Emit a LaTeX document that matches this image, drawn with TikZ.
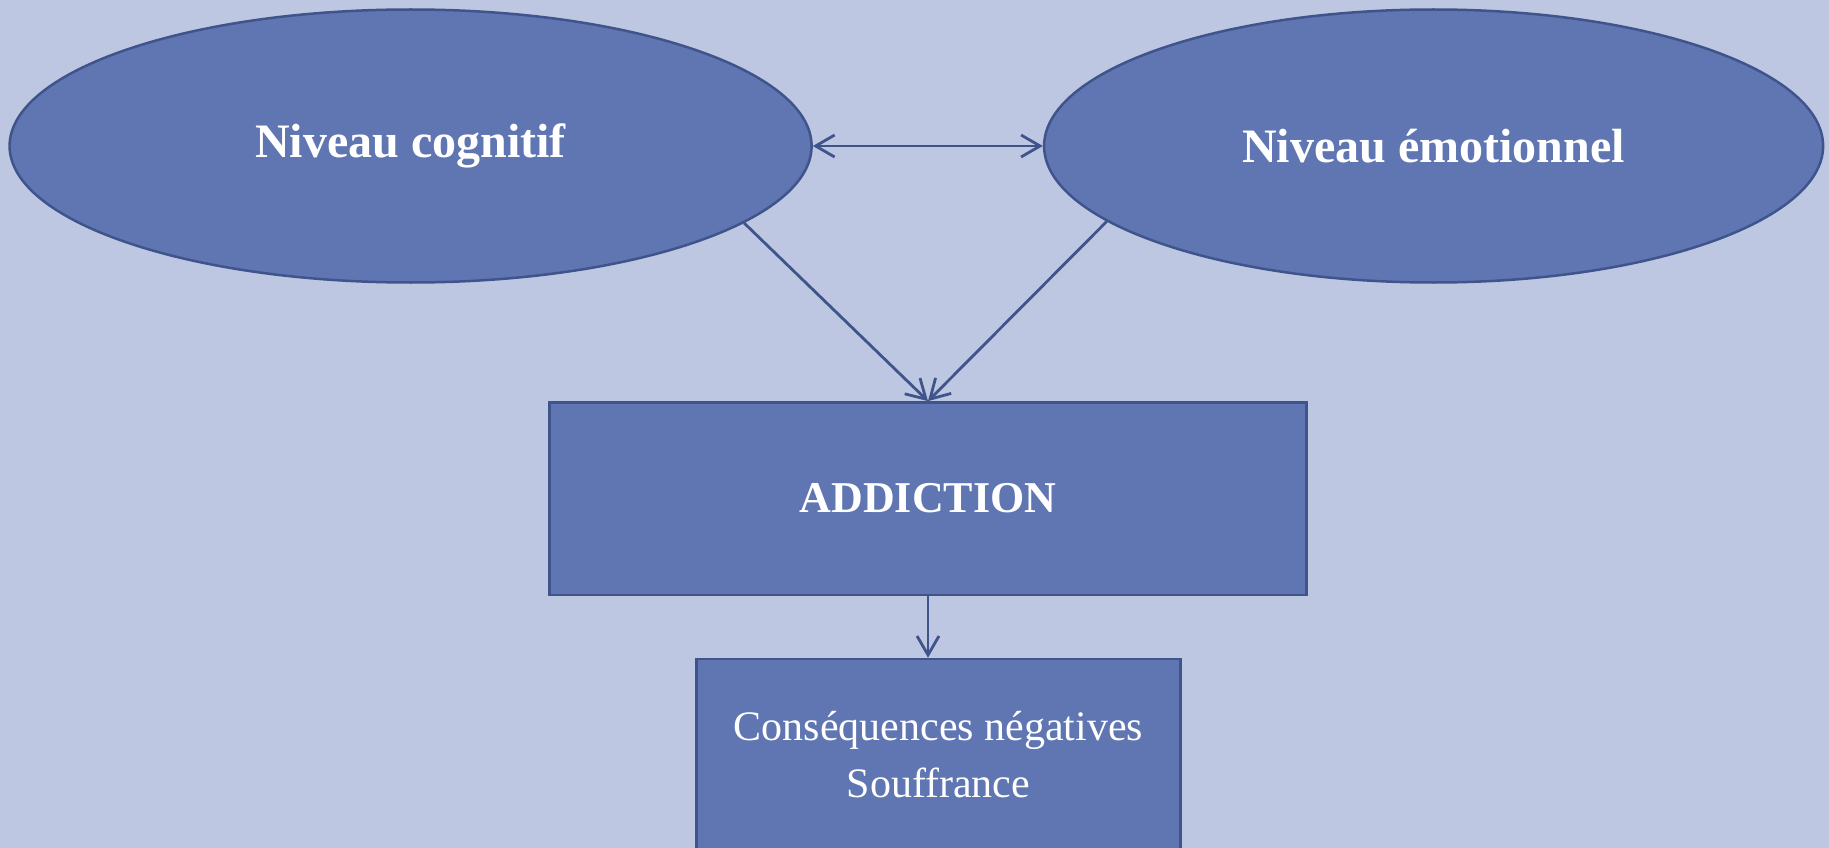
\documentclass[tikz,border=0pt]{standalone}
\usepackage{fontspec}
\setmainfont{Liberation Serif}
\usetikzlibrary{shapes.geometric,arrows.meta}
\definecolor{bgc}{RGB}{189,199,225}
\definecolor{fillc}{RGB}{95,118,178}
\definecolor{linec}{RGB}{64,84,140}
\begin{document}
\begin{tikzpicture}[x=1pt,y=-1pt,
  oval/.style={ellipse, draw=linec, fill=fillc, line width=2.5pt, inner sep=0pt, text=white,
    font=\bfseries\fontsize{48}{58}\selectfont},
  boxnode/.style={rectangle, draw=linec, fill=fillc, line width=2.5pt, inner sep=0pt, text=white},
  conn/.style={draw=linec, line width=2.8pt, -{Straight Barb[length=19pt,width=22pt]}},
  bothconn/.style={draw=linec, line width=2.8pt, {Straight Barb[length=19pt,width=22pt]}-{Straight Barb[length=19pt,width=22pt]}}
]
\useasboundingbox (0,0) rectangle (1829,848);
\clip (0,0) rectangle (1829,848);
\fill[bgc] (0,0) rectangle (1829,848);

\node[oval, minimum width=802pt, minimum height=273pt] (L) at (410.6,146) {Niveau cognitif};
\node[oval, minimum width=779pt, minimum height=273pt] (R) at (1433.6,146) {Niveau émotionnel};

\node[boxnode, minimum width=757pt, minimum height=192.5pt,
  font=\bfseries\fontsize{44}{53}\selectfont] (A) at (928,498.6) {ADDICTION};

\node[boxnode, minimum width=484pt, minimum height=260pt] (C) at (938.5,789) {};
\node[text=white, align=center, inner sep=0pt, anchor=base,
  font=\fontsize{42}{57}\selectfont] (Ct) at (938.5,797) {Conséquences négatives\\Souffrance};

\draw[bothconn] (L.east) -- (R.west);
\draw[conn] (L.-13.8) -- (A.north);
\draw[conn] (R.-167.4) -- (A.north);
\draw[conn] (A.south) -- (A.south |- C.north);
\end{tikzpicture}
\end{document}
